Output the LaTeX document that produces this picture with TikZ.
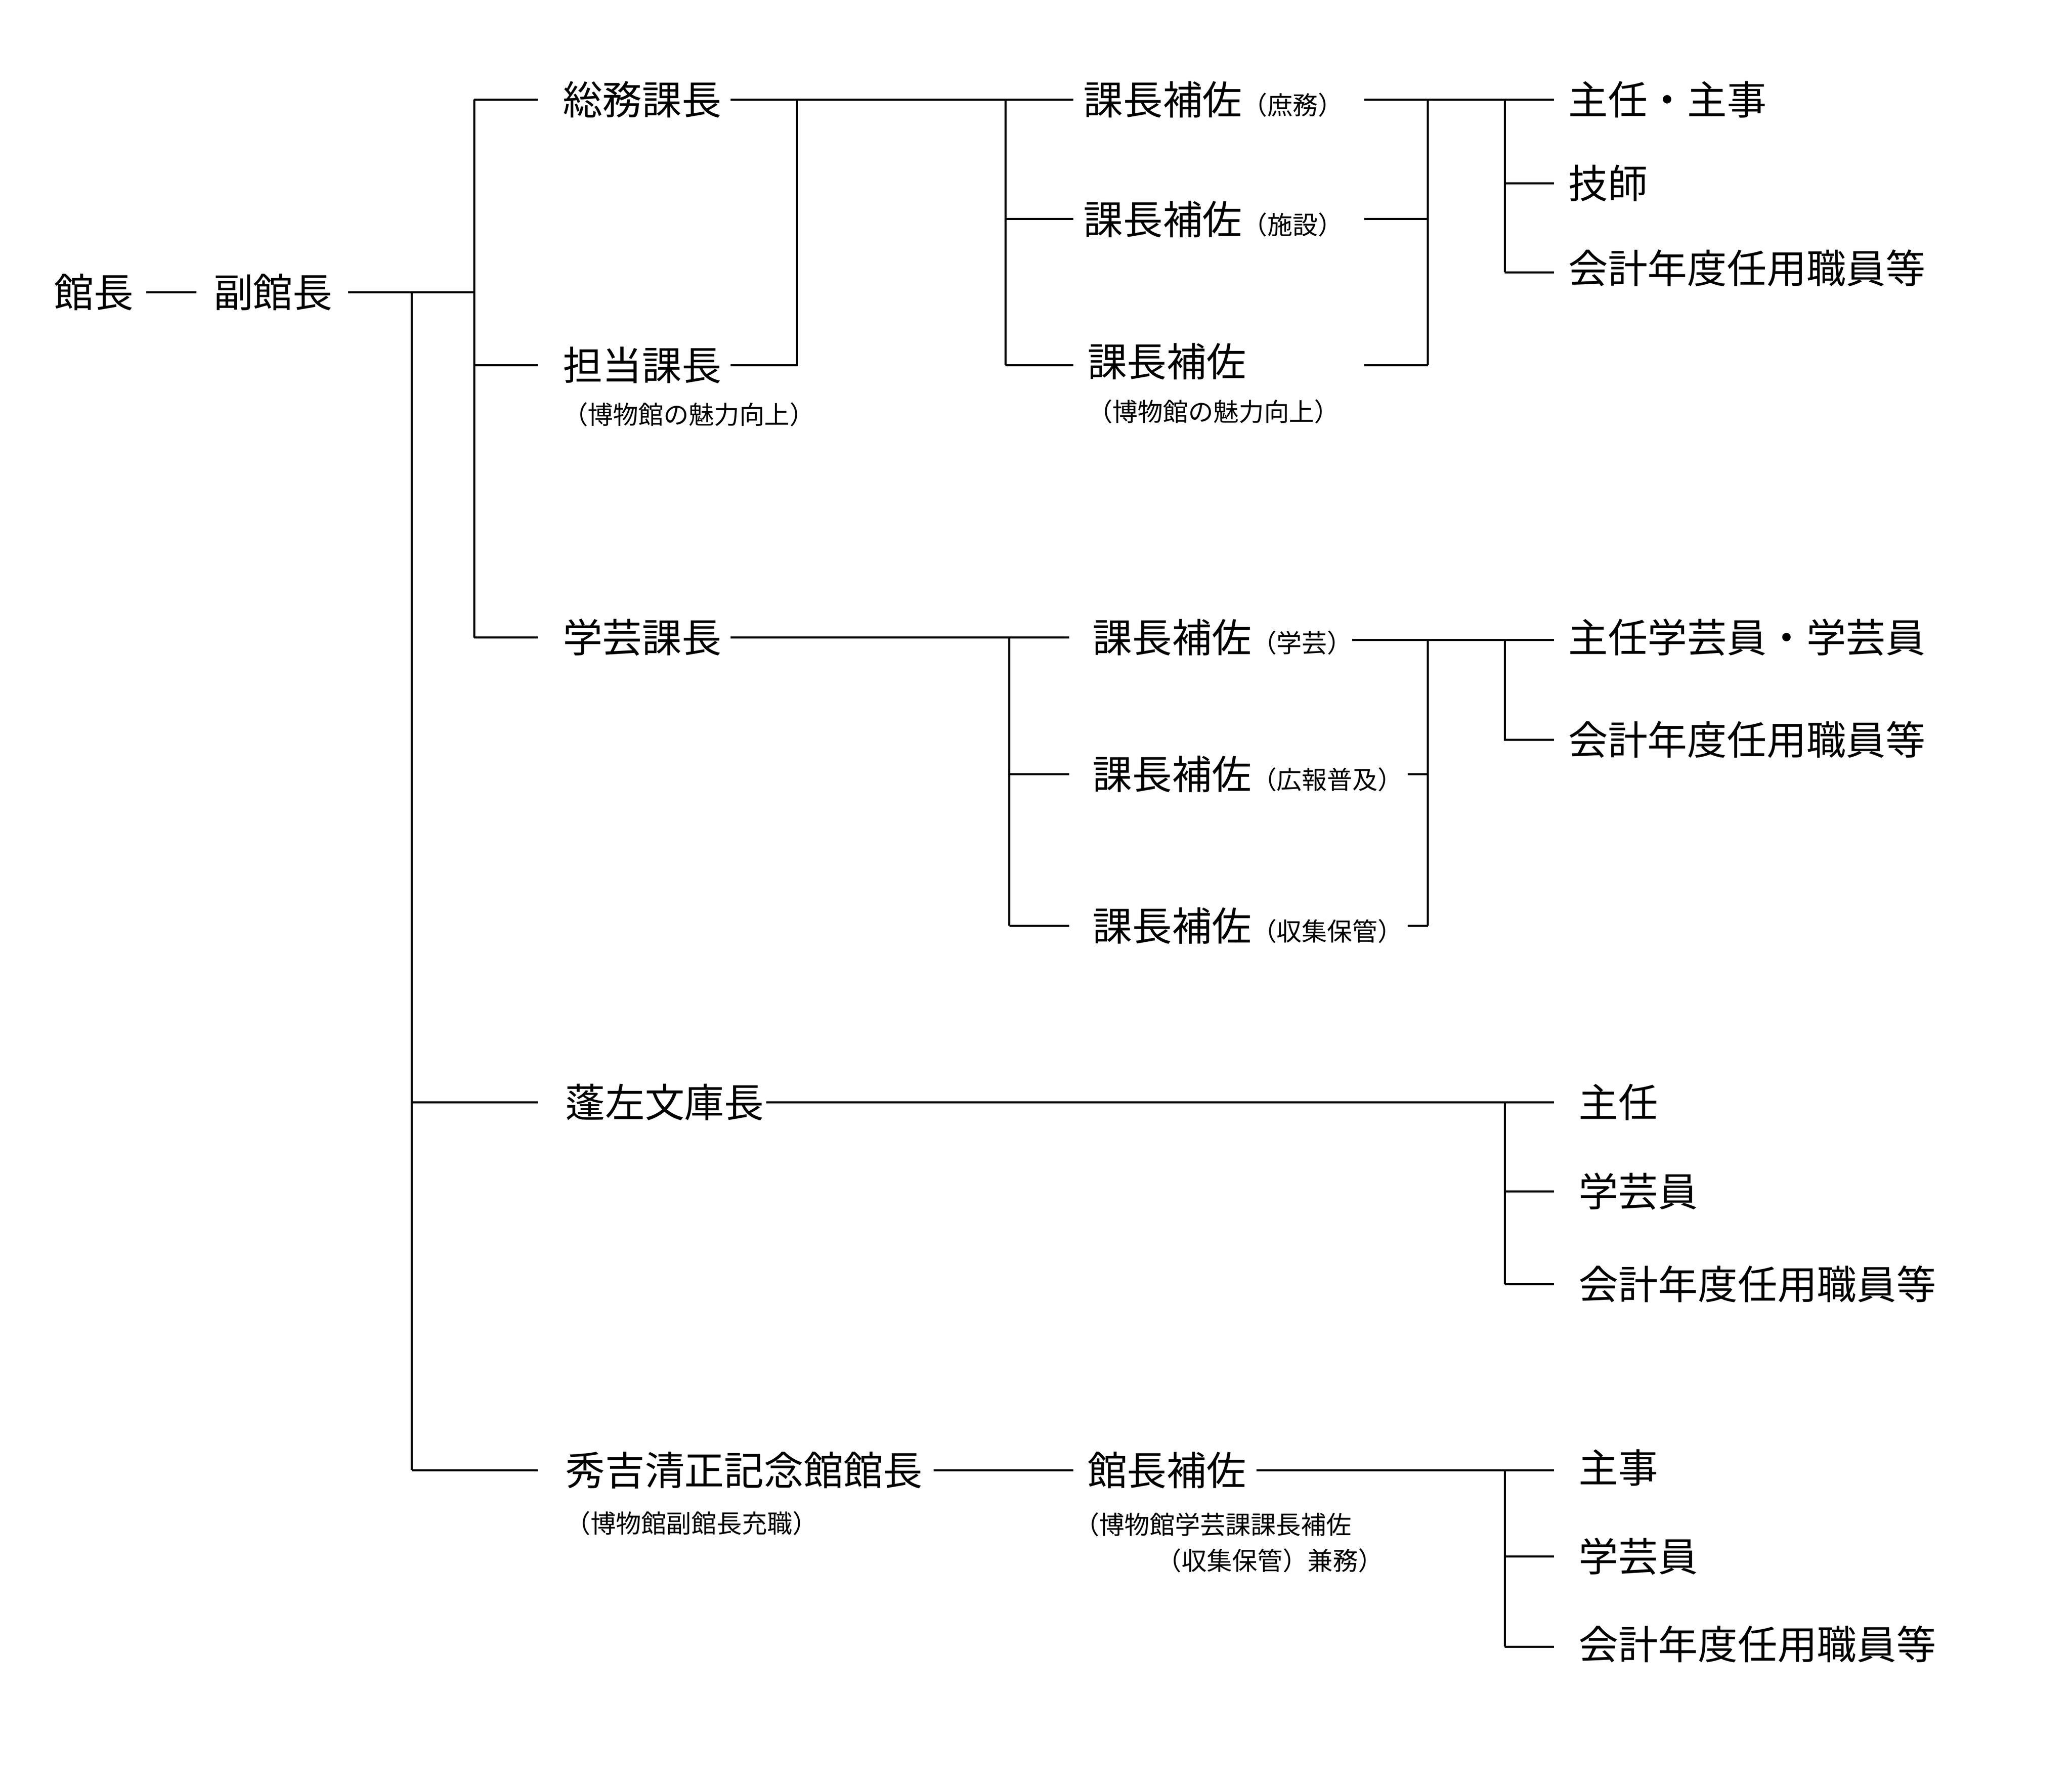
\documentclass[tikz,border=0pt]{standalone}
\usepackage{fontspec}
\setmainfont{Noto Sans CJK JP}
\newcommand{\paren}[1]{{\fontsize{5.4}{7}\selectfont #1}}
\tikzset{
  post/.style={anchor=west,inner sep=0pt,font=\fontsize{8.5}{10}\selectfont},
  note/.style={anchor=west,inner sep=0pt,font=\fontsize{5.4}{7}\selectfont},
  link/.style={draw,line width=0.45pt}
}
\begin{document}
\begin{tikzpicture}[x=0.01cm,y=-0.01cm]
\useasboundingbox (0,0) rectangle (1560,1344);

% top
\node[post] (kancho) at (40,220) {館長};
\node[post] (fuku) at (160,220) {副館長};
\draw[link] (110,220) -- (148,220);
\coordinate (j1) at (357,220);
\coordinate (j2) at (310,220);
\draw[link] (262,220) -- (j1);
\draw[link] (357,75) -- (357,480);
\draw[link] (j2) -- (310,1107);

% somu
\node[post] (somu) at (423,75) {総務課長};
\node[post] (tanto) at (423,275) {担当課長};
\node[note] at (423,312) {（博物館の魅力向上）};
\node[post] (gakugei) at (423,480) {学芸課長};
\node[post] (hosa) at (425,830) {蓬左文庫長};
\node[post] (hide) at (425,1107) {秀吉清正記念館館長};
\node[note] at (425,1147) {（博物館副館長充職）};
\foreach \y in {75,275,480} \draw[link] (357,\y) -- (405,\y);
\foreach \y in {830,1107} \draw[link] (310,\y) -- (405,\y);

\draw[link] (550,75) -- (808,75);
\draw[link] (550,275) -- (600,275) -- (600,75);
\draw[link] (757,75) -- (757,275);
\foreach \y in {165,275} \draw[link] (757,\y) -- (808,\y);

\node[post] (s1) at (815,75) {課長補佐\paren{（庶務）}};
\node[post] (s2) at (815,165) {課長補佐\paren{（施設）}};
\node[post] (s3) at (818,272) {課長補佐};
\node[note] at (818,310) {（博物館の魅力向上）};
\foreach \y in {75,165,275} \draw[link] (1027,\y) -- (1075,\y);
\draw[link] (1075,75) -- (1075,275);
\draw[link] (1075,75) -- (1170,75);
\draw[link] (1133,75) -- (1133,205);
\foreach \y in {138,205} \draw[link] (1133,\y) -- (1170,\y);
\node[post] at (1180,75) {主任・主事};
\node[post] at (1180,138) {技師};
\node[post] at (1180,202) {会計年度任用職員等};

% gakugei
\draw[link] (550,480) -- (805,480);
\draw[link] (760,480) -- (760,697);
\foreach \y in {583,697} \draw[link] (760,\y) -- (805,\y);
\node[post] (g1) at (822,480) {課長補佐\paren{（学芸）}};
\node[post] (g2) at (822,583) {課長補佐\paren{（広報普及）}};
\node[post] (g3) at (822,697) {課長補佐\paren{（収集保管）}};
\draw[link] (1018,482) -- (1170,482);
\foreach \y in {583,697} \draw[link] (1060,\y) -- (1075,\y);
\draw[link] (1075,482) -- (1075,697);
\draw[link] (1133,482) -- (1133,557) -- (1170,557);
\node[post] at (1180,480) {主任学芸員・学芸員};
\node[post] at (1180,557) {会計年度任用職員等};

% hosa
\draw[link] (577,830) -- (1170,830);
\draw[link] (1133,830) -- (1133,967);
\foreach \y in {897,967} \draw[link] (1133,\y) -- (1170,\y);
\node[post] at (1188,830) {主任};
\node[post] at (1188,897) {学芸員};
\node[post] at (1188,967) {会計年度任用職員等};

% hide
\draw[link] (703,1107) -- (808,1107);
\node[post] (kh) at (818,1107) {館長補佐};
\node[note] at (808,1148) {（博物館学芸課課長補佐};
\node[note] at (870,1175) {（収集保管）兼務）};
\draw[link] (946,1107) -- (1170,1107);
\draw[link] (1133,1107) -- (1133,1240);
\foreach \y in {1172,1240} \draw[link] (1133,\y) -- (1170,\y);
\node[post] at (1188,1105) {主事};
\node[post] at (1188,1172) {学芸員};
\node[post] at (1188,1238) {会計年度任用職員等};
\end{tikzpicture}
\end{document}
